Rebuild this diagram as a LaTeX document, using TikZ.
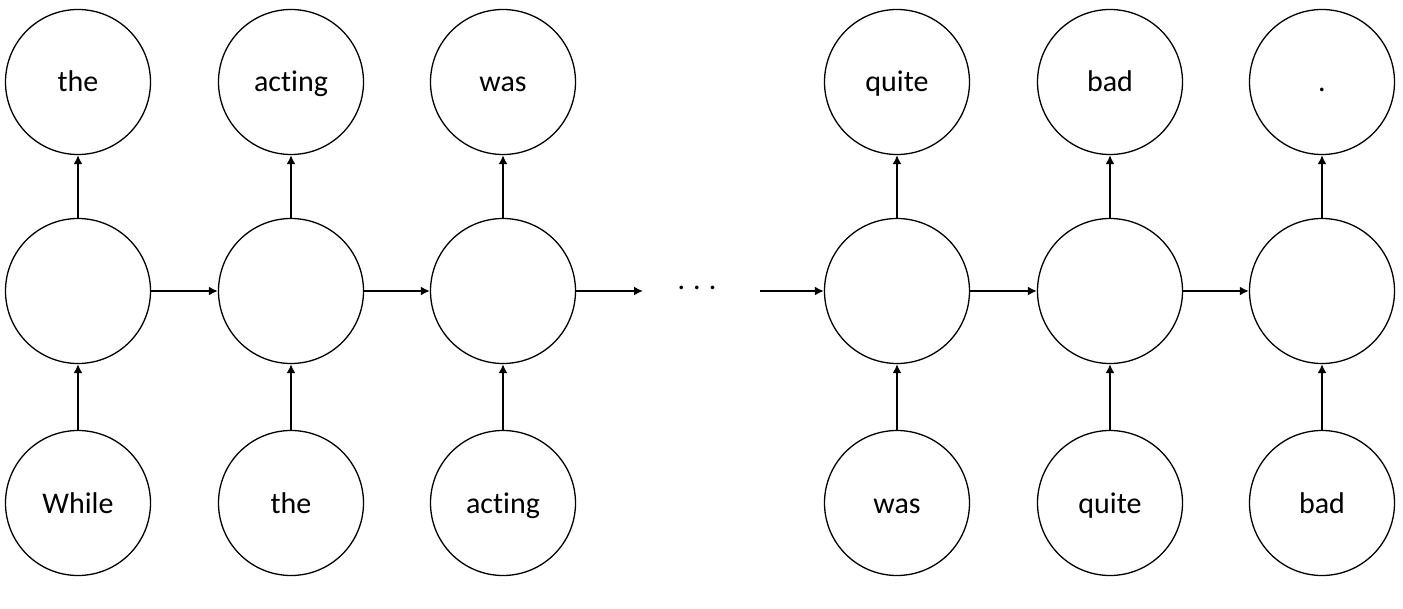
\documentclass[tikz,border=0pt]{standalone}
\usepackage{fontspec}
\setmainfont{Carlito}[Ligatures={NoCommon,NoRare,NoDiscretionary}]
\usetikzlibrary{arrows.meta}
\begin{document}
\begin{tikzpicture}[x=0.5pt,y=-0.5pt,
  cell/.style={circle,draw,line width=0.65pt,minimum size=72.5pt,inner sep=0pt,
    text height=12pt,text depth=2pt,font=\fontsize{15}{18}\selectfont},
  conn/.style={line width=1.1pt,-{Latex[length=4.5pt,width=4.5pt]}}]
\useasboundingbox (0,0) rectangle (1403,609);
\foreach \n/\x in {1/78,2/291,3/503,4/897,5/1110,6/1322}{
  \node[cell] (h\n) at (\x,291) {};
}
\node[cell] (o1) at (78,82) {the};
\node[cell] (o2) at (291,82) {acting};
\node[cell] (o3) at (503,82) {was};
\node[cell] (o4) at (897,82) {quite};
\node[cell] (o5) at (1110,82) {bad};
\node[cell] (o6) at (1322,82) {.};
\node[cell] (i1) at (78,503) {While};
\node[cell] (i2) at (291,503) {the};
\node[cell] (i3) at (503,503) {acting};
\node[cell] (i4) at (897,503) {was};
\node[cell] (i5) at (1110,503) {quite};
\node[cell] (i6) at (1322,503) {bad};
\foreach \n in {1,...,6}{
  \draw[conn] (i\n) -- (h\n);
  \draw[conn] (h\n) -- (o\n);
}
\draw[conn] (h1) -- (h2);
\draw[conn] (h2) -- (h3);
\draw[conn] (h4) -- (h5);
\draw[conn] (h5) -- (h6);
\coordinate (e3) at (643,291);
\coordinate (s4) at (760,291);
\draw[conn] (h3.east) -- (e3);
\draw[conn] (s4) -- (h4.west);
\node[inner sep=0pt,font=\fontsize{15}{18}\selectfont] (dots) at (697,288) {.\hspace{4pt}.\hspace{4pt}.};
\end{tikzpicture}
\end{document}
